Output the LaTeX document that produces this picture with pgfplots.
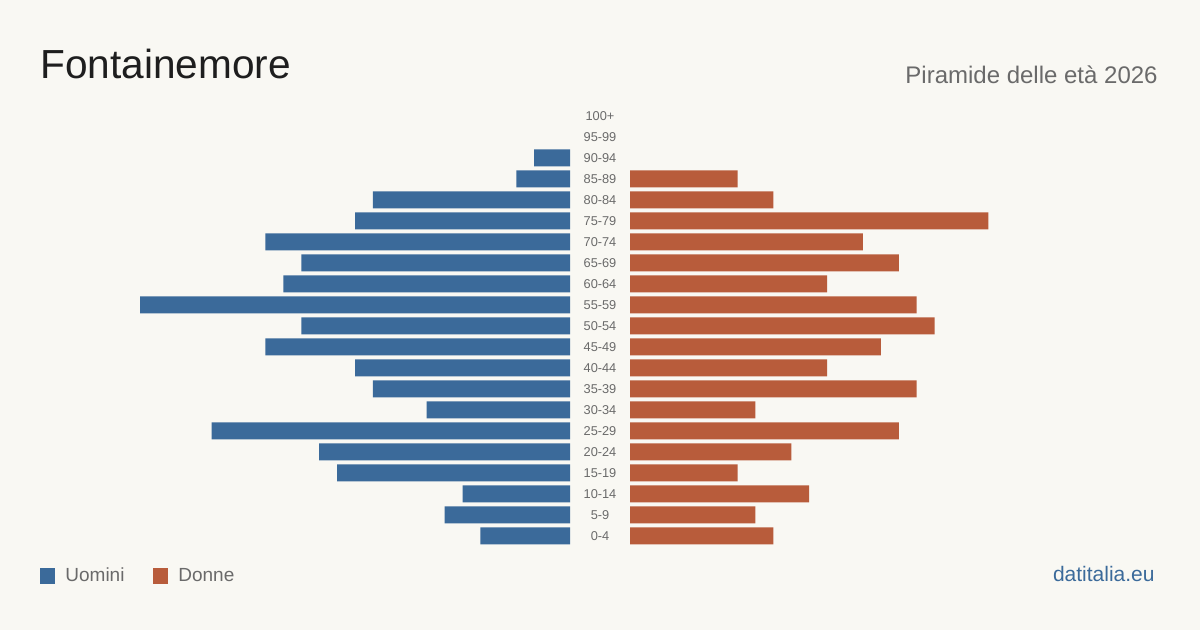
\documentclass[border=0pt]{standalone}
\usepackage{pgfplots}
\pgfplotsset{compat=1.18}
\usepackage{fontspec}
\setmainfont{Liberation Sans}
\definecolor{bg}{HTML}{F9F8F3}
\definecolor{men}{HTML}{3B6A9A}
\definecolor{women}{HTML}{B85C3B}
\definecolor{txt}{HTML}{1E1E1E}
\definecolor{sub}{HTML}{6A6A6A}

% age classes 0-4 ... 100+ at y = 0 ... 20
\pgfplotstableread{
y  men women
0  5   8
1  7   7
2  6   10
3  13  6
4  14  9
5  20  15
6  8   7
7  11  16
8  12  11
9  17  14
10 15  17
11 24  16
12 16  11
13 15  15
14 17  13
15 12  20
16 11  8
17 3   6
18 2   0
19 0   0
20 0   0
}\pyramid

\begin{document}
\begin{tikzpicture}
\fill[bg] (0,0) rectangle (600pt,315pt);
\useasboundingbox (0,0) rectangle (600pt,315pt);

\pgfplotsset{pyr/.style={
  scale only axis, width=215pt, height=220.5pt,
  xmin=0, xmax=24, ymin=-0.5, ymax=20.5,
  xbar, bar width=8.5pt, bar shift=0pt,
  axis line style={draw=none}, major tick length=0pt,
  xtick=\empty,
  unbounded coords=discard,
  x filter/.expression={x==0 ? nan : x},
}}

\begin{axis}[pyr, x dir=reverse, ytick=\empty,
  at={(285pt,41.75pt)}, anchor=south east]
\addplot[draw=none, fill=men] table[x=men, y=y] {\pyramid};
\end{axis}

\begin{axis}[pyr, at={(315pt,41.75pt)}, anchor=south west,
  ytick={0,...,20},
  yticklabels={0-4,5-9,10-14,15-19,20-24,25-29,30-34,35-39,40-44,45-49,50-54,55-59,60-64,65-69,70-74,75-79,80-84,85-89,90-94,95-99,100+},
  yticklabel style={anchor=center, xshift=-15pt, font=\fontsize{6.4pt}{7pt}\selectfont, text=sub, inner sep=0pt}]
\addplot[draw=none, fill=women] table[x=women, y=y] {\pyramid};
\end{axis}

\node[anchor=base west, inner sep=0pt, text=txt, font=\fontsize{20.3pt}{23pt}\selectfont] at (20pt,275.5pt) {Fontainemore};
\node[anchor=base east, inner sep=0pt, text=sub, font=\fontsize{12pt}{14pt}\selectfont] at (579pt,273.3pt) {Piramide delle età 2026};

\fill[men] (20pt,23pt) rectangle (27.5pt,31pt);
\node[anchor=base west, inner sep=0pt, text=sub, font=\fontsize{9.5pt}{11pt}\selectfont] at (32.5pt,24pt) {Uomini};
\fill[women] (76.5pt,23pt) rectangle (84pt,31pt);
\node[anchor=base west, inner sep=0pt, text=sub, font=\fontsize{9.5pt}{11pt}\selectfont] at (89pt,24pt) {Donne};

\node[anchor=base east, inner sep=0pt, text=men, font=\fontsize{10.5pt}{12pt}\selectfont] at (577.5pt,24pt) {datitalia.eu};
\end{tikzpicture}
\end{document}
